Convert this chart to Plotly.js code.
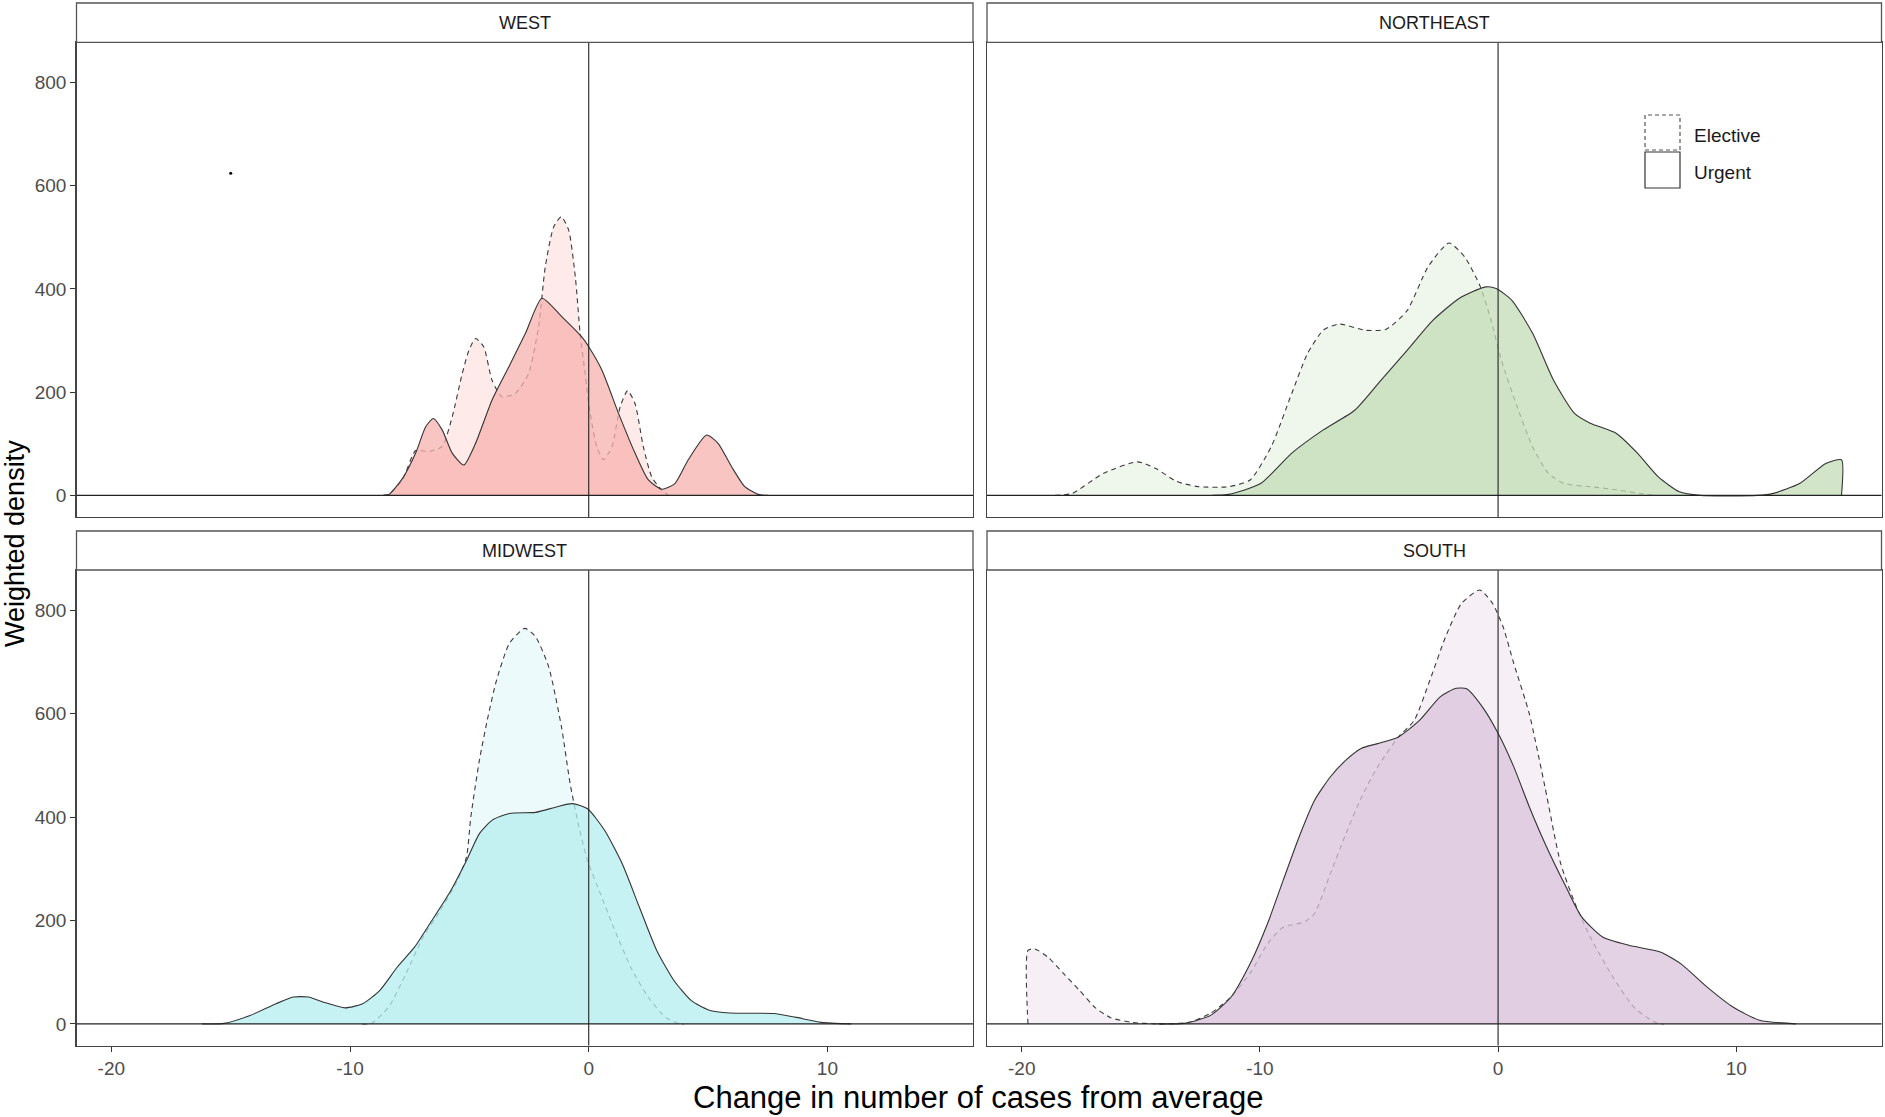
<!DOCTYPE html>
<html>
<head>
<meta charset="utf-8">
<script src="https://cdn.plot.ly/plotly-3.0.1.min.js"></script>
<style>
  html, body { margin: 0; padding: 0; background: #fff; }
  #chart { width: 1885px; height: 1117px; }
</style>
</head>
<body>
<div id="chart"></div>
<script>
// ---- values ----
const regions = ['WEST', 'NORTHEAST', 'MIDWEST', 'SOUTH'];
const typeLabels = ['Elective', 'Urgent'];
const xTicks = [-20, -10, 0, 10];
const xTickText = ['-20', '-10', '0', '10'];
const yTicks = [0, 200, 400, 600, 800];

// WEST
const westUrgentX = [-8.6, -8.37, -7.8, -7.25, -6.83, -6.51, -6.14, -5.72, -5.23, -4.74, -4.05, -3.35, -2.65, -1.96, -1.12, -0.29, 0, 0.55, 1.25, 1.94, 2.5, 3.06, 3.61, 4.17, 4.94, 5.42, 5.98, 6.54, 7.1, 7.5];
const westUrgentY = [0, 2, 33, 82, 133, 149, 127, 82, 59, 101, 185, 249, 314, 382, 346, 307, 288, 243, 159, 82, 30, 12, 23, 69, 117, 101, 56, 17, 2, 0];
const westElectiveX = [-8.6, -8.37, -7.8, -7.25, -6.7, -6.14, -5.72, -5.3, -5.02, -4.74, -4.4, -4.05, -3.63, -3.07, -2.52, -2.1, -1.82, -1.47, -1.15, -0.84, -0.56, -0.36, -0.15, 0.06, 0.34, 0.62, 0.97, 1.32, 1.63, 1.94, 2.29, 2.64, 3.06, 3.35];
const westElectiveY = [0, 2, 30, 87, 85, 95, 152, 236, 281, 304, 288, 223, 191, 198, 236, 327, 443, 520, 540, 514, 423, 314, 236, 159, 94, 69, 94, 172, 203, 178, 94, 36, 10, 0];
const westDot = [-15, 624];

// NORTHEAST
const neUrgentX = [-12.0, -11.3, -9.97, -8.66, -7.34, -6.02, -4.92, -3.82, -2.72, -1.62, -0.52, -0.08, 0.58, 1.45, 2.33, 3.21, 3.87, 4.97, 5.85, 6.73, 7.61, 8.49, 10.9, 11.56, 12.66, 13.76, 14.42, 14.42];
const neUrgentY = [0, 2, 23, 82, 127, 165, 223, 281, 340, 382, 404, 401, 378, 314, 223, 159, 140, 120, 82, 36, 7, 0, 0, 4, 23, 62, 69, 0];
const neElectiveX = [-18.6, -17.88, -16.56, -15.14, -14.37, -13.49, -12.61, -11.29, -10.41, -9.53, -8.66, -8.0, -7.34, -6.68, -5.58, -4.7, -3.82, -2.94, -2.06, -1.4, -0.74, -0.3, 0.14, 0.8, 1.45, 2.11, 2.77, 3.87, 4.97, 6.07, 6.6];
const neElectiveY = [0, 4, 43, 65, 52, 27, 17, 17, 30, 94, 198, 275, 320, 332, 320, 322, 358, 443, 489, 462, 404, 340, 262, 172, 94, 43, 23, 17, 11, 3, 0];

// MIDWEST
const mwUrgentX = [-16.2, -15.27, -14.19, -13.1, -12.37, -11.74, -11.11, -10.2, -9.47, -8.75, -8.02, -7.29, -6.57, -5.85, -5.12, -4.58, -4.04, -3.32, -2.23, -1.32, -0.69, -0.05, 0.67, 1.4, 2.12, 2.85, 3.57, 4.3, 5.02, 5.93, 7.74, 8.65, 9.74, 11.0];
const mwUrgentY = [0, 1, 16, 39, 52, 52, 42, 31, 39, 65, 110, 149, 200, 252, 316, 368, 394, 407, 409, 420, 426, 416, 374, 310, 226, 142, 84, 45, 27, 21, 20, 13, 3, 0];
const mwElectiveX = [-9.5, -9.11, -8.39, -7.66, -6.94, -6.21, -5.49, -5.12, -4.94, -4.58, -4.22, -3.86, -3.32, -2.68, -2.23, -1.68, -1.14, -0.78, -0.41, -0.05, 0.49, 1.04, 1.76, 2.49, 3.21, 3.75, 4.0];
const mwElectiveY = [0, 1, 32, 97, 168, 220, 278, 323, 400, 510, 594, 665, 736, 765, 749, 691, 574, 465, 381, 316, 252, 187, 110, 52, 13, 1, 0];

// SOUTH
const soUrgentX = [-14.3, -13.19, -12.09, -11.21, -10.34, -9.68, -9.02, -8.36, -7.71, -7.04, -6.39, -5.73, -5.06, -4.18, -3.3, -2.42, -1.76, -1.32, -0.66, 0, 0.66, 1.31, 1.97, 2.85, 3.51, 4.39, 5.49, 6.81, 7.68, 8.78, 9.88, 10.98, 12.5];
const soUrgentY = [0, 1, 16, 52, 123, 194, 278, 361, 432, 478, 510, 533, 542, 555, 587, 633, 649, 648, 613, 562, 497, 420, 349, 265, 207, 168, 152, 139, 116, 71, 32, 7, 0];
const soElectiveX = [-19.74, -19.74, -19.45, -18.9, -18.24, -17.58, -16.93, -16.27, -15.39, -14.27, -12.97, -12.09, -11.21, -10.34, -9.68, -9.02, -8.14, -7.71, -7.04, -6.39, -5.73, -5.06, -4.18, -3.52, -2.86, -2.2, -1.54, -0.77, -0.23, 0.21, 0.66, 1.31, 1.97, 2.63, 3.29, 3.95, 4.83, 5.71, 6.59, 6.95];
const soElectiveY = [0, 142, 145, 129, 97, 65, 32, 12, 3, 0, 3, 20, 52, 103, 155, 187, 197, 213, 291, 368, 439, 497, 555, 587, 665, 749, 813, 839, 813, 768, 697, 600, 458, 310, 226, 161, 90, 32, 3, 0];

// ---- styling ----
const W = 1885, H = 1117;
const FONT = 'Liberation Sans, Arial, sans-serif';
// urgent fill is mostly opaque so it looks even where it covers the elective area
const fills = {
  WEST:      { e: 'rgba(248,118,109,0.15)', u: 'rgba(247,178,174,0.75)' },
  NORTHEAST: { e: 'rgba(120,180,95,0.12)',  u: 'rgba(195,220,182,0.75)' },
  MIDWEST:   { e: 'rgba(0,191,196,0.07)',   u: 'rgba(180,238,239,0.75)' },
  SOUTH:     { e: 'rgba(165,105,165,0.10)', u: 'rgba(218,195,219,0.75)' }
};
const series = {
  WEST:      { ex: westElectiveX, ey: westElectiveY, ux: westUrgentX, uy: westUrgentY },
  NORTHEAST: { ex: neElectiveX,   ey: neElectiveY,   ux: neUrgentX,   uy: neUrgentY },
  MIDWEST:   { ex: mwElectiveX,   ey: mwElectiveY,   ux: mwUrgentX,   uy: mwUrgentY },
  SOUTH:     { ex: soElectiveX,   ey: soElectiveY,   ux: soUrgentX,   uy: soUrgentY }
};

// panel boxes in pixels (left, right, top, bottom)
const colsPx = [[76.5, 973], [987, 1881.5]];
const rowsPx = [[42.3, 517], [570, 1045.5]];
const stripPx = [[3, 42.3], [531, 570]];
const px = v => v / W;
const py = v => 1 - v / H;

const xRange = [-21.46, 16.1];
const yRange = [-41.8, 877.8];

const traces = [];
const layout = {
  width: W, height: H, autosize: false,
  margin: { l: 0, r: 0, t: 0, b: 0 },
  paper_bgcolor: '#fff', plot_bgcolor: '#fff',
  showlegend: false, hovermode: false,
  font: { family: FONT, size: 19, color: '#4d4d4d' },
  shapes: [], annotations: []
};

regions.forEach((reg, i) => {
  const col = i % 2, row = Math.floor(i / 2);
  const n = i === 0 ? '' : String(i + 1);
  const xa = 'x' + n, ya = 'y' + n;
  const s = series[reg];

  traces.push({
    x: s.ex, y: s.ey, xaxis: xa, yaxis: ya, type: 'scatter', mode: 'lines',
    fill: 'tozeroy', fillcolor: fills[reg].e,
    line: { color: '#3a3a3a', width: 1.1, dash: '5px,4px', shape: 'spline', smoothing: 0.6 },
    name: typeLabels[0]
  });
  traces.push({
    x: s.ux, y: s.uy, xaxis: xa, yaxis: ya, type: 'scatter', mode: 'lines',
    fill: 'tozeroy', fillcolor: fills[reg].u,
    line: { color: '#333', width: 1.1, shape: 'spline', smoothing: 0.6 },
    name: typeLabels[1]
  });

  const axBase = {
    showgrid: false, zeroline: false, showline: true, mirror: true,
    linecolor: '#444', linewidth: 1.3, ticks: 'outside', ticklen: 5,
    tickcolor: '#333', tickwidth: 1, fixedrange: true,
    tickfont: { family: FONT, size: 19, color: '#4d4d4d' }
  };
  layout['xaxis' + n] = Object.assign({}, axBase, {
    domain: [px(colsPx[col][0]), px(colsPx[col][1])],
    range: xRange, anchor: ya, tickvals: xTicks, ticktext: xTickText,
    ticks: row === 1 ? 'outside' : '', showticklabels: row === 1
  });
  layout['yaxis' + n] = Object.assign({}, axBase, {
    domain: [py(rowsPx[row][1]), py(rowsPx[row][0])],
    range: yRange, anchor: xa, tickvals: yTicks,
    ticks: col === 0 ? 'outside' : '', showticklabels: col === 0
  });

  // reference lines at 0
  layout.shapes.push({ type: 'line', xref: xa + ' domain', yref: ya, x0: 0, x1: 1, y0: 0, y1: 0,
    line: { color: '#222', width: 1.3 } });
  layout.shapes.push({ type: 'line', xref: xa, yref: ya + ' domain', x0: 0, x1: 0, y0: 0, y1: 1,
    line: { color: '#222', width: 1.1 } });

  // facet strip
  layout.shapes.push({ type: 'rect', xref: 'paper', yref: 'paper',
    x0: px(colsPx[col][0]), x1: px(colsPx[col][1]),
    y0: py(stripPx[row][1]), y1: py(stripPx[row][0]),
    fillcolor: '#fff', line: { color: '#555', width: 1.3 } });
  layout.annotations.push({ xref: 'paper', yref: 'paper',
    x: px((colsPx[col][0] + colsPx[col][1]) / 2), y: py((stripPx[row][0] + stripPx[row][1]) / 2),
    text: reg, showarrow: false, xanchor: 'center', yanchor: 'middle',
    font: { family: FONT, size: 18, color: '#1a1a1a' } });
});

// stray point in the WEST panel
traces.push({ x: [westDot[0]], y: [westDot[1]], xaxis: 'x', yaxis: 'y', type: 'scatter',
  mode: 'markers', marker: { color: '#000', size: 3 } });

// legend keys (drawn by hand, inside NORTHEAST)
layout.shapes.push({ type: 'rect', xref: 'paper', yref: 'paper',
  x0: px(1645), x1: px(1680), y0: py(150), y1: py(115),
  fillcolor: '#fff', line: { color: '#555', width: 1.2, dash: '4px,3px' } });
layout.shapes.push({ type: 'rect', xref: 'paper', yref: 'paper',
  x0: px(1645), x1: px(1680), y0: py(188), y1: py(152),
  fillcolor: '#fff', line: { color: '#333', width: 1.2 } });
[[typeLabels[0], 135], [typeLabels[1], 172]].forEach(([t, yy]) => {
  layout.annotations.push({ xref: 'paper', yref: 'paper', x: px(1692), y: py(yy),
    text: t, showarrow: false, xanchor: 'left', yanchor: 'middle',
    font: { family: FONT, size: 19, color: '#1a1a1a' } });
});

// axis titles
layout.annotations.push({ xref: 'paper', yref: 'paper', x: px(15), y: py(544),
  text: 'Weighted density', showarrow: false, textangle: -90,
  xanchor: 'center', yanchor: 'middle', font: { family: FONT, size: 27, color: '#000' } });
layout.annotations.push({ xref: 'paper', yref: 'paper', x: px(978), y: py(1097),
  text: 'Change in number of cases from average', showarrow: false,
  xanchor: 'center', yanchor: 'middle', font: { family: FONT, size: 31, color: '#000' } });

Plotly.newPlot('chart', traces, layout, { displayModeBar: false, staticPlot: true });
</script>
</body>
</html>
